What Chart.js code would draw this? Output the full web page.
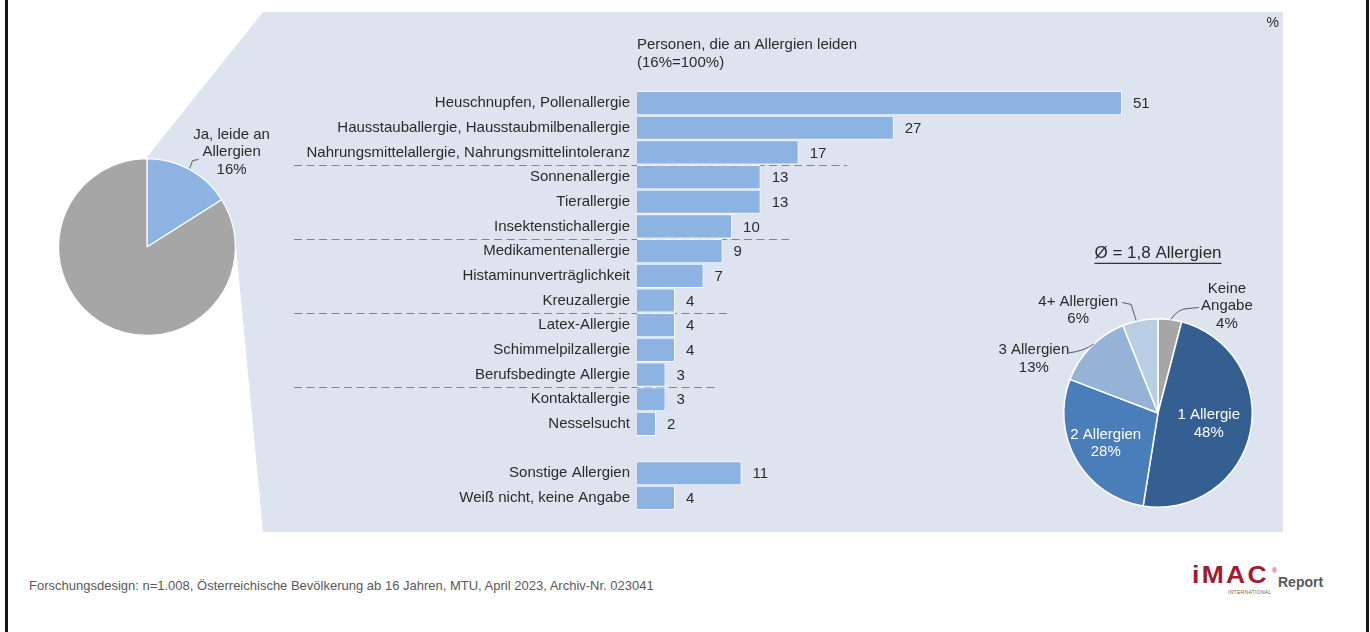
<!DOCTYPE html>
<html lang="de">
<head>
<meta charset="utf-8">
<title>Allergien in Österreich</title>
<script src="https://cdn.jsdelivr.net/npm/chart.js@4.4.1/dist/chart.umd.min.js"></script>
<style>
  html, body { margin: 0; padding: 0; background: #fff; }
  #page { position: relative; width: 1370px; height: 632px; overflow: hidden;
          font-family: 'Liberation Sans', Arial, sans-serif; }
  #panel { position: absolute; left: 0; top: 0; }
  canvas { position: absolute; }
  #barChart { left: 263px; top: 12px; }
  #overviewPie { left: 20px; top: 100px; }
  #countPie { left: 980px; top: 225px; }
  .frame { position: absolute; top: 0; width: 3px; height: 632px; background: #161616; }
  #footer { position: absolute; left: 29px; top: 578px; font-size: 13px; color: #595959; white-space: nowrap; }
  #logo { position: absolute; left: 1192px; top: 562px; width: 150px; height: 40px; }
  #logo .brand { position: absolute; left: 0; top: 0; font: 900 23px 'Liberation Sans', Arial, sans-serif;
                 color: #a31a32; letter-spacing: 2px; transform: scaleX(1.15); transform-origin: left top; }
  #logo .reg { position: absolute; left: 80px; top: 5px; font-size: 7px; color: #a31a32; }
  #logo .intl { position: absolute; left: 36px; top: 27px; font-size: 5px; color: #7a5a60; letter-spacing: 0.3px; }
  #logo .report { position: absolute; left: 86px; top: 12px; font: bold 14px 'Liberation Sans', Arial, sans-serif; color: #595959; }
</style>
</head>
<body>
<div id="page">
  <svg id="panel" width="1370" height="632">
    <polygon points="263,12 1283,12 1283,532 263,532 236,247 147,157" fill="#dde4f0"/>
  </svg>
  <div class="frame" style="left:5px"></div>
  <div class="frame" style="left:1366px"></div>

  <canvas id="barChart" width="1020" height="520"></canvas>
  <canvas id="overviewPie" width="290" height="260"></canvas>
  <canvas id="countPie" width="320" height="305"></canvas>

  <div id="footer">Forschungsdesign: n=1.008, Österreichische Bevölkerung ab 16 Jahren, MTU, April 2023, Archiv-Nr. 023041</div>
  <div id="logo">
    <span class="brand">iMAC</span><span class="reg">®</span>
    <span class="intl">INTERNATIONAL</span>
    <span class="report">Report</span>
  </div>
</div>

<script>
// ---- data -------------------------------------------------------------
const categories = [
  'Heuschnupfen, Pollenallergie',
  'Hausstauballergie, Hausstaubmilbenallergie',
  'Nahrungsmittelallergie, Nahrungsmittelintoleranz',
  'Sonnenallergie',
  'Tierallergie',
  'Insektenstichallergie',
  'Medikamentenallergie',
  'Histaminunverträglichkeit',
  'Kreuzallergie',
  'Latex-Allergie',
  'Schimmelpilzallergie',
  'Berufsbedingte Allergie',
  'Kontaktallergie',
  'Nesselsucht',
  '',
  'Sonstige Allergien',
  'Weiß nicht, keine Angabe'
];
const shares = [51, 27, 17, 13, 13, 10, 9, 7, 4, 4, 4, 3, 3, 2, null, 11, 4];

const overviewLabels = ['Ja, leide an Allergien', 'Nein'];
const overviewValues = [16, 84];

const countLabels = ['Keine Angabe', '1 Allergie', '2 Allergien', '3 Allergien', '4+ Allergien'];
const countValues = [4, 48, 28, 13, 6];

const chartTitle = ['Personen, die an Allergien leiden', '(16%=100%)'];
const averageText = 'Ø = 1,8 Allergien';

// ---- shared styling ---------------------------------------------------
const FONT = "'Liberation Sans', Arial, sans-serif";
const TEXT = '#2b2b2b';
Chart.defaults.font.family = FONT;
Chart.defaults.color = TEXT;
Chart.defaults.animation = false;

function multiline(ctx, lines, x, yFirst, step) {
  lines.forEach((l, i) => ctx.fillText(l, x, yFirst + i * step));
}

// ---- horizontal bar chart ---------------------------------------------
const barValueLabels = {
  id: 'barValueLabels',
  afterDatasetsDraw(chart) {
    const { ctx } = chart;
    const meta = chart.getDatasetMeta(0);
    ctx.save();
    ctx.font = '15px ' + FONT;
    ctx.fillStyle = TEXT;
    ctx.textAlign = 'left';
    ctx.textBaseline = 'middle';
    meta.data.forEach((bar, i) => {
      const v = chart.data.datasets[0].data[i];
      if (v == null) return;
      ctx.fillText(String(v), bar.x + 11, bar.y + 1);
    });
    ctx.restore();
  }
};

const groupSeparators = {
  id: 'groupSeparators',
  beforeDatasetsDraw(chart, args, opts) {
    const { ctx, scales: { x, y }, chartArea } = chart;
    ctx.save();
    ctx.strokeStyle = '#858585';
    ctx.lineWidth = 1;
    ctx.setLineDash([8, 4.5]);
    opts.after.forEach((idx, k) => {
      const yy = Math.round((y.getPixelForValue(idx) + y.getPixelForValue(idx + 1)) / 2) + 0.5;
      ctx.beginPath();
      ctx.moveTo(chartArea.left - 343, yy);
      ctx.lineTo(x.getPixelForValue(opts.reach[k]), yy);
      ctx.stroke();
    });
    ctx.restore();
  }
};

const barHeader = {
  id: 'barHeader',
  afterDraw(chart) {
    const { ctx, chartArea } = chart;
    ctx.save();
    ctx.font = '15px ' + FONT;
    ctx.fillStyle = TEXT;
    ctx.textAlign = 'left';
    ctx.textBaseline = 'middle';
    multiline(ctx, chartTitle, chartArea.left, 33, 18);
    ctx.font = '14px ' + FONT;
    ctx.textAlign = 'right';
    ctx.fillText('%', chart.width - 4, 11);
    ctx.restore();
  }
};

new Chart(document.getElementById('barChart'), {
  type: 'bar',
  data: {
    labels: categories,
    datasets: [{
      data: shares,
      backgroundColor: '#8db3e2',
      borderColor: 'rgba(255,255,255,0.85)',
      borderWidth: 1,
      categoryPercentage: 1,
      barPercentage: 0.98
    }]
  },
  options: {
    responsive: false,
    indexAxis: 'y',
    events: [],
    layout: { padding: { top: 78.7, bottom: 21.7, left: 0, right: 75.4 } },
    plugins: {
      legend: { display: false },
      tooltip: { enabled: false },
      groupSeparators: { after: [2, 5, 8, 11], reach: [22.1, 16, 9.8, 8.4] }
    },
    scales: {
      x: { display: false, min: 0, max: 60 },
      y: {
        grid: { display: false, drawTicks: false },
        border: { display: false },
        ticks: { autoSkip: false, padding: 7, color: TEXT, font: { size: 15 } },
        afterFit(scale) { scale.width = 374; }
      }
    }
  },
  plugins: [groupSeparators, barValueLabels, barHeader]
});

// ---- overview pie (share of people with allergies) ---------------------
const overviewCaption = {
  id: 'overviewCaption',
  afterDraw(chart) {
    const { ctx } = chart;
    const arc = chart.getDatasetMeta(0).data[0];
    const mid = (arc.startAngle + arc.endAngle) / 2;
    const sx = arc.x + arc.outerRadius * Math.cos(mid);
    const sy = arc.y + arc.outerRadius * Math.sin(mid);
    ctx.save();
    ctx.strokeStyle = '#595959';
    ctx.lineWidth = 1;
    ctx.beginPath();
    ctx.moveTo(sx, sy - 1);
    ctx.lineTo(sx + 3, sy - 9);
    ctx.lineTo(sx + 9, sy - 10);
    ctx.stroke();
    ctx.font = '15px ' + FONT;
    ctx.fillStyle = TEXT;
    ctx.textAlign = 'center';
    ctx.textBaseline = 'middle';
    multiline(ctx, ['Ja, leide an', 'Allergien', overviewValues[0] + '%'], sx + 42, sy - 35, 17.5);
    ctx.restore();
  }
};

new Chart(document.getElementById('overviewPie'), {
  type: 'pie',
  data: {
    labels: overviewLabels,
    datasets: [{
      data: overviewValues,
      backgroundColor: ['#8db3e2', '#a6a6a6'],
      borderColor: '#ffffff',
      borderWidth: 1.2,
      hoverOffset: 0
    }]
  },
  options: {
    responsive: false,
    events: [],
    layout: { padding: { left: 38, right: 74, top: 58, bottom: 24 } },
    plugins: { legend: { display: false }, tooltip: { enabled: false } }
  },
  plugins: [overviewCaption]
});

// ---- number of allergies pie -------------------------------------------
const countCaptions = {
  id: 'countCaptions',
  afterDraw(chart) {
    const { ctx } = chart;
    const arcs = chart.getDatasetMeta(0).data;
    const cx = arcs[0].x, cy = arcs[0].y, R = arcs[0].outerRadius;
    const edge = (a) => {
      const m = (a.startAngle + a.endAngle) / 2;
      return [cx + R * Math.cos(m), cy + R * Math.sin(m), m];
    };
    const pct = (i) => countValues[i] + '%';
    ctx.save();
    ctx.fillStyle = TEXT;
    ctx.textAlign = 'center';
    ctx.textBaseline = 'middle';

    // average headline, underlined
    ctx.font = '17px ' + FONT;
    const hy = cy - R - 65;
    ctx.fillText(averageText, cx, hy);
    const w = ctx.measureText(averageText).width;
    ctx.fillRect(cx - w / 2, hy + 9, w, 1.2);

    ctx.font = '15px ' + FONT;
    ctx.strokeStyle = '#595959';
    ctx.lineWidth = 1;

    // Keine Angabe
    let [sx, sy] = edge(arcs[0]);
    ctx.beginPath();
    ctx.moveTo(sx + 1, sy);
    ctx.quadraticCurveTo(sx + 8, sy - 11, sx + 18, sy - 11);
    ctx.lineTo(sx + 29, sy - 12);
    ctx.stroke();
    multiline(ctx, ['Keine', 'Angabe', pct(0)], sx + 57, sy - 31, 17.5);

    // 4+ Allergien
    [sx, sy] = edge(arcs[4]);
    ctx.beginPath();
    ctx.moveTo(sx - 4, sy);
    ctx.lineTo(sx - 9, sy - 16);
    ctx.lineTo(sx - 18, sy - 18);
    ctx.stroke();
    multiline(ctx, ['4+ Allergien', pct(4)], sx - 62, sy - 19, 17.5);

    // 3 Allergien
    [sx, sy] = edge(arcs[3]);
    ctx.beginPath();
    ctx.moveTo(sx + 3, sy - 3);
    ctx.quadraticCurveTo(sx - 6, sy + 4, sx - 22, sy + 6);
    ctx.stroke();
    multiline(ctx, ['3 Allergien', pct(3)], sx - 57, sy + 3, 17.5);

    // inner labels
    ctx.fillStyle = '#ffffff';
    [[1, 0.55], [2, 0.64]].forEach(([i, f]) => {
      const a = arcs[i];
      const m = (a.startAngle + a.endAngle) / 2;
      const x = cx + R * f * Math.cos(m);
      const y = cy + R * f * Math.sin(m);
      multiline(ctx, [countLabels[i], pct(i)], x, y - 8.5, 17.5);
    });
    ctx.restore();
  }
};

new Chart(document.getElementById('countPie'), {
  type: 'pie',
  data: {
    labels: countLabels,
    datasets: [{
      data: countValues,
      backgroundColor: ['#a6a6a6', '#365f91', '#4a7ebb', '#95b3d7', '#b9cde5'],
      borderColor: '#ffffff',
      borderWidth: 1.5,
      hoverOffset: 0
    }]
  },
  options: {
    responsive: false,
    events: [],
    layout: { padding: { left: 83, right: 47, top: 93, bottom: 22 } },
    plugins: { legend: { display: false }, tooltip: { enabled: false } }
  },
  plugins: [countCaptions]
});
</script>
</body>
</html>
